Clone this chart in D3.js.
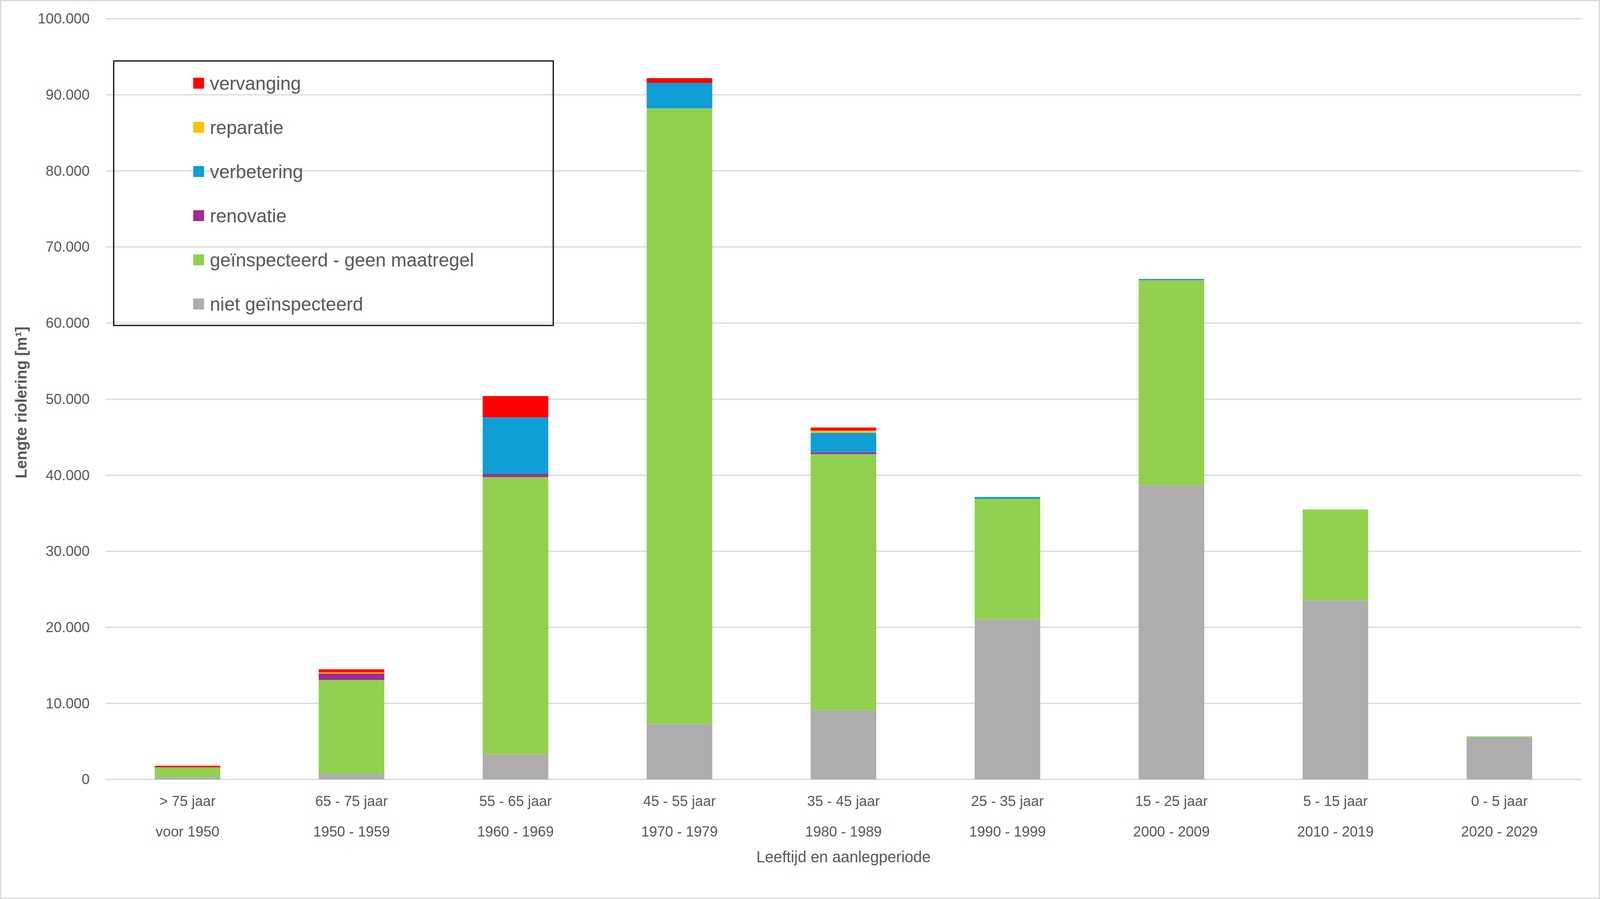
<!DOCTYPE html>
<html>
<head>
<meta charset="utf-8">
<script src="https://cdn.jsdelivr.net/npm/d3@7"></script>
<style>
  html, body { margin: 0; padding: 0; background: #fff; overflow: hidden; width: 100%; height: 100%; }
  #chart { width: 100vw; height: 100vh; }
  svg { display: block; }
  text { font-family: "Liberation Sans", Arial, sans-serif; fill: #595959; }
</style>
</head>
<body>
<div id="chart"></div>
<script>
// Categories (two label rows)
const ageLabels = ["> 75 jaar", "65 - 75 jaar", "55 - 65 jaar", "45 - 55 jaar", "35 - 45 jaar",
                   "25 - 35 jaar", "15 - 25 jaar", "5 - 15 jaar", "0 - 5 jaar"];
const periodLabels = ["voor 1950", "1950 - 1959", "1960 - 1969", "1970 - 1979", "1980 - 1989",
                      "1990 - 1999", "2000 - 2009", "2010 - 2019", "2020 - 2029"];

// Series values (m1), stacked bottom to top
const nietGeinspecteerd = [280, 720, 3300, 7280, 9070, 21040, 38660, 23540, 5530];
const geenMaatregel     = [1250, 12350, 36450, 80940, 33690, 15840, 26960, 11950, 130];
const renovatie         = [40, 860, 410, 0, 250, 0, 50, 0, 0];
const verbetering       = [0, 0, 7430, 3360, 2560, 250, 130, 0, 0];
const reparatie         = [30, 140, 0, 0, 290, 0, 0, 0, 0];
const vervanging        = [200, 410, 2810, 610, 400, 0, 0, 0, 0];

const seriesNames = ["niet geïnspecteerd", "geïnspecteerd - geen maatregel", "renovatie",
                     "verbetering", "reparatie", "vervanging"];
const seriesColors = ["#ADADAD", "#92D050", "#A02B93", "#0F9ED5", "#FFC000", "#FF0000"];
const yTicks = [0, 10000, 20000, 30000, 40000, 50000, 60000, 70000, 80000, 90000, 100000];

// Build table for d3.stack
const seriesValues = [nietGeinspecteerd, geenMaatregel, renovatie, verbetering, reparatie, vervanging];
const table = ageLabels.map(function (a, i) {
    const row = { cat: a };
    seriesNames.forEach(function (s, j) { row[s] = seriesValues[j][i]; });
    return row;
});

const width = 4124, height = 2301;
const margin = { top: 48, right: 48, bottom: 306, left: 272 };
const innerWidth = width - margin.left - margin.right;
const innerHeight = height - margin.top - margin.bottom;

// viewBox so the drawing fits the window whatever its inner size
const svg = d3.select("#chart").append("svg")
    .attr("viewBox", "0 0 " + width + " " + height)
    .attr("preserveAspectRatio", "none")
    .attr("width", "100%")
    .attr("height", "100%");

// chart border
svg.append("rect")
    .attr("x", 1.5).attr("y", 1.5)
    .attr("width", width - 3).attr("height", height - 3)
    .attr("fill", "#fff")
    .attr("stroke", "#d9d9d9")
    .attr("stroke-width", 3);

const g = svg.append("g")
    .attr("transform", "translate(" + margin.left + "," + margin.top + ")");

const x = d3.scaleBand()
    .domain(ageLabels)
    .range([0, innerWidth])
    .paddingInner(0.6)
    .paddingOuter(0.3);

const y = d3.scaleLinear()
    .domain([0, 100000])
    .range([innerHeight, 0]);

const nl = d3.formatLocale({ decimal: ",", thousands: ".", grouping: [3], currency: ["€", ""] });
const fmt = nl.format(",.0f");

// gridlines
g.append("g")
    .selectAll("line")
    .data(yTicks)
    .enter().append("line")
    .attr("x1", 0).attr("x2", innerWidth)
    .attr("y1", function (d) { return y(d); })
    .attr("y2", function (d) { return y(d); })
    .attr("stroke", "#d9d9d9")
    .attr("stroke-width", 3);

// y axis labels
const yAxis = d3.axisLeft(y).tickValues(yTicks).tickFormat(fmt).tickSize(0).tickPadding(41);
g.append("g")
    .call(yAxis)
    .call(function (s) { s.select(".domain").remove(); })
    .selectAll("text")
    .style("font-size", "37px")
    .attr("fill", "#595959");

// stacked bars
const stack = d3.stack().keys(seriesNames);
const layers = stack(table);

g.selectAll(".layer")
    .data(layers)
    .enter().append("g")
    .attr("class", "layer")
    .attr("fill", function (d, i) { return seriesColors[i]; })
    .selectAll("rect")
    .data(function (d) { return d; })
    .enter().append("rect")
    .attr("x", function (d) { return x(d.data.cat); })
    .attr("width", x.bandwidth())
    .attr("y", function (d) { return y(d[1]); })
    .attr("height", function (d) { return y(d[0]) - y(d[1]); });

// x axis labels, two rows
const xAxis = g.append("g").attr("transform", "translate(0," + innerHeight + ")");
xAxis.selectAll(".age")
    .data(ageLabels)
    .enter().append("text")
    .attr("x", function (d) { return x(d) + x.bandwidth() / 2; })
    .attr("y", 55)
    .attr("text-anchor", "middle")
    .attr("dominant-baseline", "central")
    .style("font-size", "37px")
    .text(function (d) { return d; });
xAxis.selectAll(".period")
    .data(periodLabels)
    .enter().append("text")
    .attr("x", function (d, i) { return x(ageLabels[i]) + x.bandwidth() / 2; })
    .attr("y", 133)
    .attr("text-anchor", "middle")
    .attr("dominant-baseline", "central")
    .style("font-size", "37px")
    .text(function (d) { return d; });

// x axis title
g.append("text")
    .attr("x", innerWidth / 2)
    .attr("y", innerHeight + 198)
    .attr("text-anchor", "middle")
    .attr("dominant-baseline", "central")
    .style("font-size", "40px")
    .text("Leeftijd en aanlegperiode");

// y axis title
svg.append("text")
    .attr("transform", "translate(68," + 1030 + ") rotate(-90)")
    .attr("text-anchor", "middle")
    .style("font-size", "40px")
    .style("font-weight", "bold")
    .text("Lengte riolering [m¹]");

// legend (top series first)
const legend = svg.append("g");
legend.append("rect")
    .attr("x", 293).attr("y", 156)
    .attr("width", 1133).attr("height", 677)
    .attr("fill", "none")
    .attr("stroke", "#000")
    .attr("stroke-width", 3);

const legendOrder = seriesNames.slice().reverse();
const legendItems = legend.selectAll(".item")
    .data(legendOrder)
    .enter().append("g")
    .attr("transform", function (d, i) { return "translate(498," + (213 + i * 113) + ")"; });
legendItems.append("rect")
    .attr("x", 0).attr("y", -14)
    .attr("width", 28).attr("height", 28)
    .attr("fill", function (d) { return seriesColors[seriesNames.indexOf(d)]; });
legendItems.append("text")
    .attr("x", 43).attr("y", 0)
    .attr("dominant-baseline", "central")
    .style("font-size", "48px")
    .text(function (d) { return d; });
</script>
</body>
</html>
